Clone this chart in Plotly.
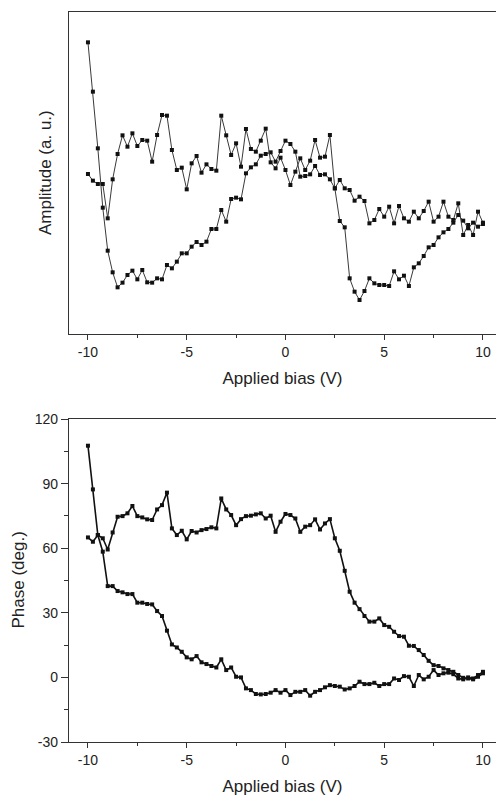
import numpy as np
import plotly.graph_objects as go

# Applied bias (V), -10 .. 10 in 0.25 V steps
bias = [round(-10 + 0.25 * k, 2) for k in range(81)]

# Amplitude (a.u.) - branch starting high at -10 V
amp_a = [96.3, 81.5, 64.5, 46.7, 33.8, 27.3, 22.8, 24.2, 26.5, 27.8,
         25.2, 28.0, 24.3, 24.2, 25.5, 25.2, 29.5, 28.5, 30.5, 33.0,
         33.0, 35.0, 36.4, 35.5, 36.5, 40.3, 40.3, 46.0, 42.5, 49.3,
         49.7, 49.2, 57.0, 58.8, 59.7, 62.3, 62.8, 63.3, 60.5, 63.7,
         66.8, 65.8, 63.5, 56.0, 56.2, 56.7, 59.2, 56.5, 56.7, 55.2,
         52.5, 55.0, 52.5, 52.0, 48.8, 50.0, 48.7, 42.0, 43.0, 46.3,
         44.0, 47.0, 42.0, 47.2, 43.5, 42.5, 45.5, 43.5, 45.7, 48.5,
         42.5, 44.0, 48.5, 44.0, 43.0, 48.0, 38.5, 41.5, 38.5, 45.5,
         42.2]
# Amplitude (a.u.) - other branch
amp_b = [56.8, 54.8, 53.8, 53.8, 43.5, 55.2, 62.8, 68.4, 65.0, 69.0,
         65.2, 67.0, 66.8, 60.5, 68.5, 74.5, 74.3, 64.0, 58.0, 58.7,
         52.2, 60.0, 62.2, 57.2, 59.7, 58.3, 57.8, 74.3, 68.4, 62.5,
         66.0, 59.0, 70.3, 64.3, 63.5, 66.8, 70.4, 60.3, 58.5, 61.7,
         58.0, 53.5, 57.5, 61.5, 58.0, 60.8, 67.0, 61.7, 62.0, 68.5,
         52.5, 42.7, 40.8, 25.5, 21.5, 19.0, 21.7, 25.5, 24.0, 23.5,
         23.5, 23.2, 27.6, 25.2, 26.3, 23.2, 28.8, 30.0, 32.2, 34.8,
         35.5, 37.8, 39.3, 40.3, 42.2, 44.5, 42.8, 40.5, 42.2, 41.0,
         41.8]

# Phase (deg.) - branch starting at 108 deg
phase_a = [107.6, 87.3, 66.1, 58.4, 42.4, 42.4, 40.1, 39.5, 38.7, 38.7,
           34.7, 34.7, 34.1, 33.9, 30.8, 28.5, 21.7, 15.3, 13.9, 11.9,
           9.3, 8.4, 9.9, 7.0, 6.2, 5.3, 4.6, 8.4, 3.4, 4.6,
           0.3, 0.0, -5.1, -5.9, -7.7, -7.9, -7.7, -7.1, -5.9, -7.1,
           -5.9, -8.2, -6.7, -6.7, -5.9, -8.5, -6.7, -5.9, -4.6, -3.6,
           -4.0, -4.3, -5.6, -5.1, -4.0, -2.0, -3.1, -3.1, -2.5, -4.0,
           -3.1, -3.1, -0.5, -1.2, 0.6, 0.3, -4.0, 1.1, -0.9, 0.3,
           3.4, 1.1, 1.9, 2.2, 1.5, -0.5, -0.9, 0.0, -0.5, 1.1,
           2.6]
# Phase (deg.) - upper branch
phase_b = [65.0, 63.0, 66.1, 64.6, 59.4, 67.3, 74.6, 74.9, 76.2, 79.6,
           74.9, 74.3, 73.4, 73.1, 78.0, 80.0, 85.8, 69.2, 66.1, 68.1,
           64.1, 68.0, 67.3, 68.4, 68.9, 69.7, 69.2, 83.1, 78.0, 75.4,
           70.7, 73.5, 74.9, 75.1, 75.7, 76.2, 73.8, 75.1, 67.6, 72.3,
           75.9, 75.4, 73.8, 67.6, 70.0, 70.7, 73.4, 68.7, 71.5, 73.5,
           64.6, 58.8, 49.5, 39.8, 34.7, 31.7, 28.5, 25.9, 25.9, 27.4,
           24.3, 23.5, 21.2, 19.2, 18.9, 14.7, 14.6, 12.7, 10.4, 7.7,
           5.7, 5.3, 4.2, 3.4, 2.6, 1.1, -0.2, -0.5, -0.9, 0.3,
           1.9]

x_ticks = [-10, -5, 0, 5, 10]
x_labels = ["-10", "-5", "0", "5", "10"]
phase_ticks = [-30, 0, 30, 60, 90, 120]
phase_labels = ["-30", "0", "30", "60", "90", "120"]

FONT = "Liberation Sans, Arial, sans-serif"
AX = "#333333"
TXT = "#222222"

fig = go.Figure()

amp_line = dict(color="#3a3a3a", width=1)
amp_marker = dict(symbol="square", size=4, color="#111111")
ph_line = dict(color="#111111", width=1.6)
ph_marker = dict(symbol="square", size=4, color="#111111")

for ys in (amp_a, amp_b):
    fig.add_trace(go.Scatter(x=bias, y=ys, mode="lines+markers", line=amp_line,
                             marker=amp_marker, xaxis="x", yaxis="y",
                             showlegend=False))
for ys in (phase_a, phase_b):
    fig.add_trace(go.Scatter(x=bias, y=ys, mode="lines+markers", line=ph_line,
                             marker=ph_marker, xaxis="x2", yaxis="y2",
                             showlegend=False))

W, H = 496, 798
ml, mr, mt, mb = 69, 0, 12, 56
ph = H - mt - mb  # 730
top_plot = (12, 334)
bot_plot = (419, 742)


def dom(p):
    return [(H - mb - p[1]) / ph, (H - mb - p[0]) / ph]


xcommon = dict(range=[-10.96, 10.66], tickvals=x_ticks, ticktext=x_labels,
               ticks="outside", ticklen=5, tickwidth=1, tickcolor=AX,
               showline=True, linecolor=AX, linewidth=1.3, mirror=True,
               showgrid=False, zeroline=False,
               tickfont=dict(family=FONT, size=14, color=TXT),
               minor=dict(dtick=2.5, tick0=0, ticks="outside", ticklen=3,
                          tickcolor=AX, showgrid=False),
               title=dict(text="Applied bias (V)",
                          font=dict(family=FONT, size=17, color=TXT),
                          standoff=13))

fig.update_layout(
    width=W, height=H,
    margin=dict(l=ml, r=mr, t=mt, b=mb),
    paper_bgcolor="white", plot_bgcolor="white",
    xaxis=dict(xcommon, domain=[0, 1], anchor="y"),
    yaxis=dict(domain=dom(top_plot), range=[8.8, 105.4], showline=True,
               linecolor=AX, linewidth=1.3, showticklabels=False, ticks="",
               showgrid=False, zeroline=False, anchor="x"),
    xaxis2=dict(xcommon, domain=[0, 1], anchor="y2"),
    yaxis2=dict(domain=dom(bot_plot), range=[-30, 120], tickvals=phase_ticks,
                ticktext=phase_labels,
                ticks="outside", ticklen=7, tickwidth=1, tickcolor=AX,
                showline=True, linecolor=AX, linewidth=1.3, showgrid=False,
                zeroline=False,
                tickfont=dict(family=FONT, size=14, color=TXT),
                minor=dict(dtick=15, tick0=0, ticks="outside", ticklen=4,
                           tickcolor=AX, showgrid=False),
                anchor="x2"),
    annotations=[
        dict(text="Amplitude (a. u.)", textangle=-90, xref="paper",
             yref="paper", x=0, xshift=-24,
             y=sum(dom(top_plot)) / 2, xanchor="center", yanchor="middle",
             showarrow=False, font=dict(family=FONT, size=17, color=TXT)),
        dict(text="Phase (deg.)", textangle=-90, xref="paper", yref="paper",
             x=0, xshift=-51, y=sum(dom(bot_plot)) / 2, xanchor="center",
             yanchor="middle", showarrow=False,
             font=dict(family=FONT, size=17, color=TXT)),
    ],
)

fig.write_html("out.html", config={"displayModeBar": False})
